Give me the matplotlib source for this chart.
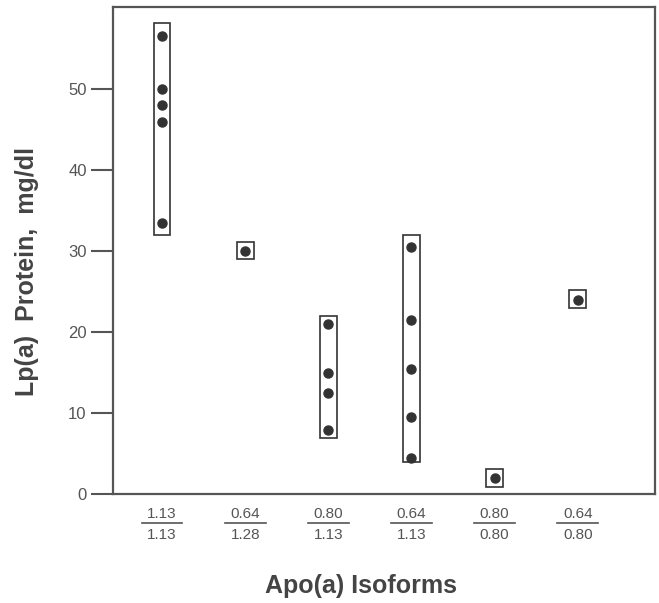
import matplotlib
matplotlib.use("Agg")
import matplotlib.pyplot as plt

plt.rcParams['font.family'] = ['Liberation Sans', 'DejaVu Sans']

# isoform groups (numerator / denominator of tick labels)
num_labels = ["1.13", "0.64", "0.80", "0.64", "0.80", "0.64"]
den_labels = ["1.13", "1.28", "1.13", "1.13", "0.80", "0.80"]

# Lp(a) protein values per group, mg/dl
values = [
    [56.5, 50, 48, 46, 33.5],
    [30],
    [21, 15, 12.5, 8],
    [30.5, 21.5, 15.5, 9.5, 4.5],
    [2],
    [24],
]

# boxes drawn round each group
box_low = [32, 29, 7, 4, 0.9, 23]
box_high = [58.2, 31.1, 22, 32, 3.1, 25.2]

ink = "#333333"
grey = "#555555"

fig = plt.figure(figsize=(6.59, 6.03), dpi=100)
ax = fig.add_axes([0.1715, 0.180, 0.8225, 0.808])

for i, vals in enumerate(values):
    xpos = i + 1
    ax.plot([xpos] * len(vals), vals, "o", color=ink, ms=6.5, zorder=3)
    ax.add_patch(plt.Rectangle((xpos - 0.1, box_low[i]), 0.2,
                               box_high[i] - box_low[i],
                               fill=False, ec=ink, lw=1.2))

ax.set_xlim(0.41, 6.93)
ax.set_ylim(0, 60.1)
ax.set_yticks([0, 10, 20, 30, 40, 50])
ax.set_xticks([])
ax.tick_params(axis="y", length=16, width=1.5, color=grey, pad=3,
               labelsize=12, labelcolor=grey)

for sp in ax.spines.values():
    sp.set_color(grey)
    sp.set_linewidth(1.6)

# fraction style tick labels
tr = ax.get_xaxis_transform()
for i in range(len(num_labels)):
    xpos = i + 1
    ax.text(xpos, -0.040, num_labels[i], transform=tr, ha="center",
            va="center", fontsize=11, color=grey)
    ax.plot([xpos - 0.245, xpos + 0.245], [-0.0585, -0.0585], transform=tr,
            color=grey, lw=1.2, clip_on=False)
    ax.text(xpos, -0.083, den_labels[i], transform=tr, ha="center",
            va="center", fontsize=11, color=grey)

fig.text(361 / 659, 1 - 586 / 603, "Apo(a) Isoforms", ha="center",
         va="center", fontsize=18, fontweight="bold", color="#444444")
fig.text(27 / 659, 1 - 271 / 603, "Lp(a)  Protein,  mg/dl", ha="center",
         va="center", rotation=90, fontsize=18, fontweight="bold",
         color="#444444")

fig.savefig("out.png", dpi=100)
